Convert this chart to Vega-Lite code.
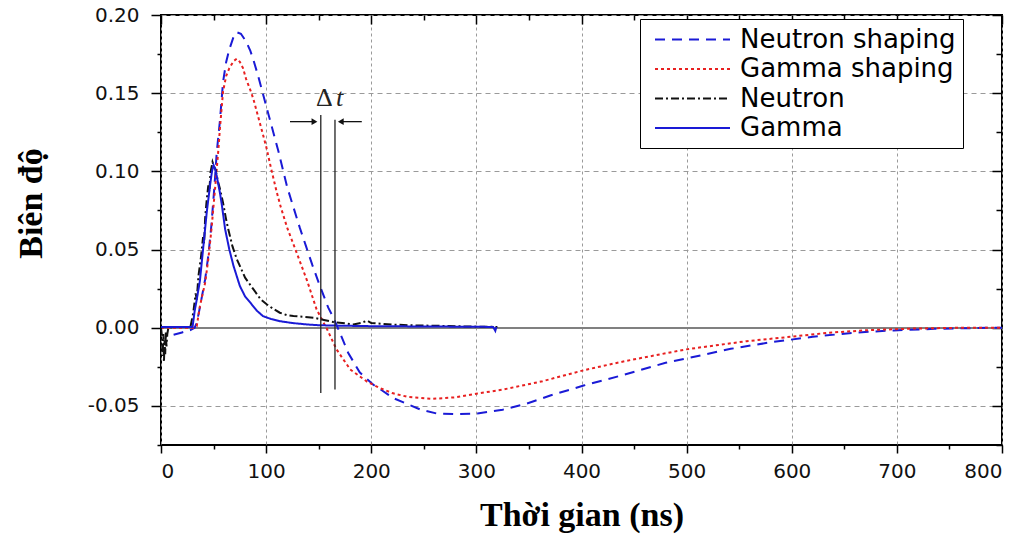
{
  "$schema": "https://vega.github.io/schema/vega-lite/v6.json",
  "width": 841,
  "height": 430,
  "padding": {"left": 161, "top": 15, "right": 30, "bottom": 90},
  "autosize": {"type": "none"},
  "background": "white",
  "config": {
    "view": {"stroke": "black", "strokeWidth": 2},
    "axis": {"labelFont": "DejaVu Sans", "labelFontSize": 20, "labelColor": "#111", "tickColor": "black", "tickWidth": 1.5, "domain": false},
    "legend": {
      "symbolType": "M-3,0H3",
      "symbolSize": 625,
      "symbolOffset": 32,
      "symbolStrokeWidth": 2,
      "labelFont": "DejaVu Sans",
      "labelFontSize": 26,
      "labelColor": "black",
      "labelOffset": 34,
      "labelLimit": 400,
      "rowPadding": 2.5,
      "padding": 7,
      "strokeColor": "black",
      "fillColor": "white"
    }
  },
  "datasets": {
    "curves": [
      {"t": 12, "v": -0.0045, "s": "Neutron shaping"},
      {"t": 20, "v": -0.003, "s": "Neutron shaping"},
      {"t": 28, "v": -0.0015, "s": "Neutron shaping"},
      {"t": 32, "v": 0, "s": "Neutron shaping"},
      {"t": 34, "v": 0.003, "s": "Neutron shaping"},
      {"t": 37, "v": 0.013, "s": "Neutron shaping"},
      {"t": 42, "v": 0.031, "s": "Neutron shaping"},
      {"t": 45, "v": 0.046, "s": "Neutron shaping"},
      {"t": 48, "v": 0.066, "s": "Neutron shaping"},
      {"t": 51, "v": 0.092, "s": "Neutron shaping"},
      {"t": 53, "v": 0.112, "s": "Neutron shaping"},
      {"t": 56, "v": 0.132, "s": "Neutron shaping"},
      {"t": 59, "v": 0.157, "s": "Neutron shaping"},
      {"t": 62, "v": 0.170, "s": "Neutron shaping"},
      {"t": 65, "v": 0.178, "s": "Neutron shaping"},
      {"t": 69, "v": 0.186, "s": "Neutron shaping"},
      {"t": 72, "v": 0.189, "s": "Neutron shaping"},
      {"t": 76, "v": 0.188, "s": "Neutron shaping"},
      {"t": 81, "v": 0.183, "s": "Neutron shaping"},
      {"t": 85, "v": 0.177, "s": "Neutron shaping"},
      {"t": 88, "v": 0.171, "s": "Neutron shaping"},
      {"t": 92, "v": 0.162, "s": "Neutron shaping"},
      {"t": 96, "v": 0.152, "s": "Neutron shaping"},
      {"t": 100, "v": 0.142, "s": "Neutron shaping"},
      {"t": 104, "v": 0.132, "s": "Neutron shaping"},
      {"t": 108, "v": 0.122, "s": "Neutron shaping"},
      {"t": 112, "v": 0.112, "s": "Neutron shaping"},
      {"t": 116, "v": 0.101, "s": "Neutron shaping"},
      {"t": 120, "v": 0.090, "s": "Neutron shaping"},
      {"t": 126, "v": 0.077, "s": "Neutron shaping"},
      {"t": 132, "v": 0.064, "s": "Neutron shaping"},
      {"t": 138, "v": 0.052, "s": "Neutron shaping"},
      {"t": 144, "v": 0.040, "s": "Neutron shaping"},
      {"t": 151, "v": 0.027, "s": "Neutron shaping"},
      {"t": 155, "v": 0.020, "s": "Neutron shaping"},
      {"t": 159, "v": 0.013, "s": "Neutron shaping"},
      {"t": 165, "v": 0.005, "s": "Neutron shaping"},
      {"t": 170, "v": -0.003, "s": "Neutron shaping"},
      {"t": 178, "v": -0.016, "s": "Neutron shaping"},
      {"t": 189, "v": -0.0285, "s": "Neutron shaping"},
      {"t": 202, "v": -0.0365, "s": "Neutron shaping"},
      {"t": 210, "v": -0.040, "s": "Neutron shaping"},
      {"t": 221, "v": -0.045, "s": "Neutron shaping"},
      {"t": 235, "v": -0.049, "s": "Neutron shaping"},
      {"t": 247, "v": -0.0524, "s": "Neutron shaping"},
      {"t": 262, "v": -0.0548, "s": "Neutron shaping"},
      {"t": 280, "v": -0.0553, "s": "Neutron shaping"},
      {"t": 301, "v": -0.0549, "s": "Neutron shaping"},
      {"t": 325, "v": -0.0524, "s": "Neutron shaping"},
      {"t": 348, "v": -0.0485, "s": "Neutron shaping"},
      {"t": 371, "v": -0.0432, "s": "Neutron shaping"},
      {"t": 402, "v": -0.037, "s": "Neutron shaping"},
      {"t": 441, "v": -0.030, "s": "Neutron shaping"},
      {"t": 480, "v": -0.0224, "s": "Neutron shaping"},
      {"t": 503, "v": -0.0192, "s": "Neutron shaping"},
      {"t": 542, "v": -0.0135, "s": "Neutron shaping"},
      {"t": 581, "v": -0.0092, "s": "Neutron shaping"},
      {"t": 620, "v": -0.0058, "s": "Neutron shaping"},
      {"t": 659, "v": -0.0032, "s": "Neutron shaping"},
      {"t": 697, "v": -0.0017, "s": "Neutron shaping"},
      {"t": 736, "v": -0.0007, "s": "Neutron shaping"},
      {"t": 790, "v": 0, "s": "Neutron shaping"},
      {"t": 800, "v": 0, "s": "Neutron shaping"},

      {"t": 0, "v": 0, "s": "Gamma shaping"},
      {"t": 32, "v": 0, "s": "Gamma shaping"},
      {"t": 34, "v": 0.001, "s": "Gamma shaping"},
      {"t": 37, "v": 0.0138, "s": "Gamma shaping"},
      {"t": 42, "v": 0.0288, "s": "Gamma shaping"},
      {"t": 45, "v": 0.0438, "s": "Gamma shaping"},
      {"t": 48, "v": 0.063, "s": "Gamma shaping"},
      {"t": 51.4, "v": 0.0887, "s": "Gamma shaping"},
      {"t": 54.6, "v": 0.114, "s": "Gamma shaping"},
      {"t": 56, "v": 0.127, "s": "Gamma shaping"},
      {"t": 59, "v": 0.151, "s": "Gamma shaping"},
      {"t": 62, "v": 0.161, "s": "Gamma shaping"},
      {"t": 65, "v": 0.166, "s": "Gamma shaping"},
      {"t": 69, "v": 0.1705, "s": "Gamma shaping"},
      {"t": 72, "v": 0.172, "s": "Gamma shaping"},
      {"t": 75, "v": 0.170, "s": "Gamma shaping"},
      {"t": 78, "v": 0.166, "s": "Gamma shaping"},
      {"t": 81, "v": 0.159, "s": "Gamma shaping"},
      {"t": 85, "v": 0.152, "s": "Gamma shaping"},
      {"t": 88, "v": 0.146, "s": "Gamma shaping"},
      {"t": 94, "v": 0.131, "s": "Gamma shaping"},
      {"t": 100, "v": 0.116, "s": "Gamma shaping"},
      {"t": 105, "v": 0.101, "s": "Gamma shaping"},
      {"t": 110, "v": 0.087, "s": "Gamma shaping"},
      {"t": 114, "v": 0.077, "s": "Gamma shaping"},
      {"t": 120, "v": 0.064, "s": "Gamma shaping"},
      {"t": 129, "v": 0.048, "s": "Gamma shaping"},
      {"t": 139, "v": 0.030, "s": "Gamma shaping"},
      {"t": 148, "v": 0.0117, "s": "Gamma shaping"},
      {"t": 158, "v": -0.001, "s": "Gamma shaping"},
      {"t": 167, "v": -0.0139, "s": "Gamma shaping"},
      {"t": 180, "v": -0.0267, "s": "Gamma shaping"},
      {"t": 196, "v": -0.0345, "s": "Gamma shaping"},
      {"t": 208, "v": -0.0385, "s": "Gamma shaping"},
      {"t": 220, "v": -0.0418, "s": "Gamma shaping"},
      {"t": 235, "v": -0.0443, "s": "Gamma shaping"},
      {"t": 258, "v": -0.0455, "s": "Gamma shaping"},
      {"t": 280, "v": -0.0445, "s": "Gamma shaping"},
      {"t": 301, "v": -0.0421, "s": "Gamma shaping"},
      {"t": 325, "v": -0.0396, "s": "Gamma shaping"},
      {"t": 363, "v": -0.0342, "s": "Gamma shaping"},
      {"t": 402, "v": -0.0272, "s": "Gamma shaping"},
      {"t": 441, "v": -0.0214, "s": "Gamma shaping"},
      {"t": 499, "v": -0.0139, "s": "Gamma shaping"},
      {"t": 557, "v": -0.0086, "s": "Gamma shaping"},
      {"t": 596, "v": -0.006, "s": "Gamma shaping"},
      {"t": 635, "v": -0.0032, "s": "Gamma shaping"},
      {"t": 674, "v": -0.0015, "s": "Gamma shaping"},
      {"t": 713, "v": -0.0006, "s": "Gamma shaping"},
      {"t": 760, "v": 0, "s": "Gamma shaping"},
      {"t": 800, "v": 0, "s": "Gamma shaping"},

      {"t": 0, "v": 0, "s": "Neutron"},
      {"t": 1, "v": -0.006, "s": "Neutron"},
      {"t": 1.6, "v": -0.018, "s": "Neutron"},
      {"t": 2.2, "v": -0.004, "s": "Neutron"},
      {"t": 2.8, "v": -0.022, "s": "Neutron"},
      {"t": 3.4, "v": -0.008, "s": "Neutron"},
      {"t": 4, "v": -0.017, "s": "Neutron"},
      {"t": 4.6, "v": -0.003, "s": "Neutron"},
      {"t": 5.2, "v": -0.012, "s": "Neutron"},
      {"t": 6, "v": -0.004, "s": "Neutron"},
      {"t": 7, "v": 0, "s": "Neutron"},
      {"t": 15, "v": 0.0005, "s": "Neutron"},
      {"t": 28, "v": 0.0005, "s": "Neutron"},
      {"t": 30.7, "v": 0.0096, "s": "Neutron"},
      {"t": 33, "v": 0.022, "s": "Neutron"},
      {"t": 34, "v": 0.018, "s": "Neutron"},
      {"t": 35.6, "v": 0.033, "s": "Neutron"},
      {"t": 38, "v": 0.045, "s": "Neutron"},
      {"t": 40, "v": 0.058, "s": "Neutron"},
      {"t": 41, "v": 0.054, "s": "Neutron"},
      {"t": 42, "v": 0.07, "s": "Neutron"},
      {"t": 43.5, "v": 0.082, "s": "Neutron"},
      {"t": 45, "v": 0.091, "s": "Neutron"},
      {"t": 46, "v": 0.087, "s": "Neutron"},
      {"t": 47, "v": 0.099, "s": "Neutron"},
      {"t": 49, "v": 0.106, "s": "Neutron"},
      {"t": 50.5, "v": 0.103, "s": "Neutron"},
      {"t": 52, "v": 0.101, "s": "Neutron"},
      {"t": 54, "v": 0.094, "s": "Neutron"},
      {"t": 56, "v": 0.089, "s": "Neutron"},
      {"t": 59, "v": 0.080, "s": "Neutron"},
      {"t": 62, "v": 0.069, "s": "Neutron"},
      {"t": 64, "v": 0.063, "s": "Neutron"},
      {"t": 68, "v": 0.052, "s": "Neutron"},
      {"t": 72, "v": 0.044, "s": "Neutron"},
      {"t": 75, "v": 0.0395, "s": "Neutron"},
      {"t": 80, "v": 0.032, "s": "Neutron"},
      {"t": 88, "v": 0.0245, "s": "Neutron"},
      {"t": 95, "v": 0.018, "s": "Neutron"},
      {"t": 100.5, "v": 0.015, "s": "Neutron"},
      {"t": 107, "v": 0.012, "s": "Neutron"},
      {"t": 113, "v": 0.0096, "s": "Neutron"},
      {"t": 120, "v": 0.008, "s": "Neutron"},
      {"t": 126, "v": 0.0075, "s": "Neutron"},
      {"t": 135, "v": 0.007, "s": "Neutron"},
      {"t": 145, "v": 0.0064, "s": "Neutron"},
      {"t": 155, "v": 0.005, "s": "Neutron"},
      {"t": 164, "v": 0.0036, "s": "Neutron"},
      {"t": 175, "v": 0.0028, "s": "Neutron"},
      {"t": 183, "v": 0.0021, "s": "Neutron"},
      {"t": 190, "v": 0.003, "s": "Neutron"},
      {"t": 196, "v": 0.0045, "s": "Neutron"},
      {"t": 200, "v": 0.003, "s": "Neutron"},
      {"t": 210, "v": 0.0025, "s": "Neutron"},
      {"t": 221, "v": 0.002, "s": "Neutron"},
      {"t": 240, "v": 0.0015, "s": "Neutron"},
      {"t": 265, "v": 0.0012, "s": "Neutron"},
      {"t": 290, "v": 0.0008, "s": "Neutron"},
      {"t": 320, "v": 0.0005, "s": "Neutron"},

      {"t": 0, "v": 0.0005, "s": "Gamma"},
      {"t": 30, "v": 0.0005, "s": "Gamma"},
      {"t": 32, "v": 0.0106, "s": "Gamma"},
      {"t": 34, "v": 0.018, "s": "Gamma"},
      {"t": 37, "v": 0.030, "s": "Gamma"},
      {"t": 40, "v": 0.050, "s": "Gamma"},
      {"t": 43.5, "v": 0.0737, "s": "Gamma"},
      {"t": 46.6, "v": 0.0908, "s": "Gamma"},
      {"t": 48.5, "v": 0.100, "s": "Gamma"},
      {"t": 50, "v": 0.104, "s": "Gamma"},
      {"t": 51.5, "v": 0.1015, "s": "Gamma"},
      {"t": 53, "v": 0.097, "s": "Gamma"},
      {"t": 56, "v": 0.0865, "s": "Gamma"},
      {"t": 58, "v": 0.078, "s": "Gamma"},
      {"t": 61, "v": 0.063, "s": "Gamma"},
      {"t": 65, "v": 0.050, "s": "Gamma"},
      {"t": 69, "v": 0.0395, "s": "Gamma"},
      {"t": 75, "v": 0.0267, "s": "Gamma"},
      {"t": 80, "v": 0.020, "s": "Gamma"},
      {"t": 85, "v": 0.016, "s": "Gamma"},
      {"t": 91, "v": 0.011, "s": "Gamma"},
      {"t": 97, "v": 0.0074, "s": "Gamma"},
      {"t": 105, "v": 0.0055, "s": "Gamma"},
      {"t": 113, "v": 0.0042, "s": "Gamma"},
      {"t": 125, "v": 0.003, "s": "Gamma"},
      {"t": 138.6, "v": 0.0021, "s": "Gamma"},
      {"t": 150, "v": 0.0016, "s": "Gamma"},
      {"t": 170, "v": 0.0013, "s": "Gamma"},
      {"t": 200, "v": 0.001, "s": "Gamma"},
      {"t": 250, "v": 0.0008, "s": "Gamma"},
      {"t": 300, "v": 0.0006, "s": "Gamma"},
      {"t": 316, "v": 0.0005, "s": "Gamma"},
      {"t": 318, "v": -0.002, "s": "Gamma"},
      {"t": 319, "v": 0.0004, "s": "Gamma"}
    ],
    "marks": [
      {"t": 152, "top": 0.136, "bottom": -0.0417},
      {"t": 165.5, "top": 0.133, "bottom": -0.0395}
    ],
    "arrows": [
      {"t": 122.7, "t2": 146, "v": 0.1318},
      {"t": 191, "t2": 171, "v": 0.1318}
    ],
    "heads": [
      {"t": 146, "v": 0.1318, "shape": "triangle-right"},
      {"t": 171, "v": 0.1318, "shape": "triangle-left"}
    ],
    "delta": [
      {"t": 155.5, "v": 0.1415, "txt": "Δ"}
    ],
    "tee": [
      {"t": 170, "v": 0.1415, "txt": "t"}
    ]
  },
  "resolve": {"axis": {"x": "independent", "y": "independent"}},
  "layer": [
    {
      "data": {"name": "curves"},
      "mark": {"type": "rule", "color": "#808080", "strokeWidth": 1.5},
      "encoding": {"y": {"datum": 0, "type": "quantitative", "scale": {"domain": [-0.075, 0.2], "nice": false, "zero": false}, "axis": null}}
    },
    {
      "data": {"name": "curves"},
      "mark": {"type": "line", "strokeWidth": 2, "clip": true},
      "encoding": {
        "x": {
          "field": "t", "type": "quantitative",
          "scale": {"domain": [0, 800], "nice": false},
          "axis": {
            "orient": "bottom",
            "values": [0, 50, 100, 150, 200, 250, 300, 350, 400, 450, 500, 550, 600, 650, 700, 750, 800],
            "labelExpr": "datum.value % 100 === 0 ? datum.label : ''",
            "tickSize": {"condition": {"test": "datum.value % 100 === 0", "value": 8}, "value": 4},
            "labelPadding": 8,
            "grid": true,
            "gridColor": "#9a9a9a",
            "gridDash": [3, 3],
            "gridWidth": 1,
            "gridOpacity": {"condition": {"test": "datum.value % 100 === 0", "value": 1}, "value": 0},
            "title": "Thời gian (ns)",
            "titleFont": "Liberation Serif",
            "titleFontWeight": "bold",
            "titleFontSize": 34,
            "titleColor": "black",
            "titleBaseline": "alphabetic",
            "titleY": 80
          }
        },
        "y": {
          "field": "v", "type": "quantitative",
          "scale": {"domain": [-0.075, 0.2], "nice": false, "zero": false},
          "axis": {
            "orient": "left",
            "values": [-0.075, -0.05, -0.025, 0, 0.025, 0.05, 0.075, 0.1, 0.125, 0.15, 0.175, 0.2],
            "format": ".2f",
            "labelExpr": "abs(round(datum.value * 1000)) % 50 === 0 ? replace(datum.label, '−', '-') : ''",
            "tickSize": {"condition": {"test": "abs(round(datum.value * 1000)) % 50 === 0", "value": 10}, "value": 4},
            "labelPadding": 12,
            "grid": true,
            "gridColor": "#9a9a9a",
            "gridDash": [5, 4],
            "gridWidth": 1,
            "gridOpacity": {"condition": {"test": "abs(round(datum.value * 1000)) % 50 === 0", "value": 1}, "value": 0},
            "title": "Biên độ",
            "titleFont": "Liberation Serif",
            "titleFontWeight": "bold",
            "titleFontSize": 34,
            "titleColor": "black",
            "titleAngle": -90,
            "titleBaseline": "middle",
            "titleX": -130,
            "titleY": 188
          }
        },
        "color": {
          "field": "s", "type": "nominal",
          "scale": {"domain": ["Neutron shaping", "Gamma shaping", "Neutron", "Gamma"], "range": ["#1a1ad6", "#e82020", "#111111", "#1a1ad6"]},
          "legend": {"title": null, "orient": "none", "legendX": 479, "legendY": 4}
        },
        "strokeDash": {
          "field": "s", "type": "nominal",
          "scale": {"domain": ["Neutron shaping", "Gamma shaping", "Neutron", "Gamma"], "range": [[10, 7], [3, 3], [8, 3, 2, 3], [1, 0]]},
          "legend": {"title": null, "orient": "none", "legendX": 479, "legendY": 4}
        },
        "order": {"field": "t", "type": "quantitative"}
      }
    },
    {
      "data": {"name": "marks"},
      "mark": {"type": "rule", "color": "#222", "strokeWidth": 1.3},
      "encoding": {
        "x": {
          "field": "t", "type": "quantitative", "scale": {"domain": [0, 800], "nice": false},
          "axis": {
            "orient": "top",
            "values": [0, 50, 100, 150, 200, 250, 300, 350, 400, 450, 500, 550, 600, 650, 700, 750, 800],
            "labels": false,
            "grid": false,
            "title": null,
            "tickSize": {"condition": {"test": "datum.value % 100 === 0", "value": -9}, "value": -5}
          }
        },
        "y": {
          "field": "top", "type": "quantitative", "scale": {"domain": [-0.075, 0.2], "nice": false, "zero": false},
          "axis": {
            "orient": "right",
            "values": [-0.075, -0.05, -0.025, 0, 0.025, 0.05, 0.075, 0.1, 0.125, 0.15, 0.175, 0.2],
            "labels": false,
            "grid": false,
            "title": null,
            "tickSize": {"condition": {"test": "abs(round(datum.value * 1000)) % 50 === 0", "value": -10}, "value": -6}
          }
        },
        "y2": {"field": "bottom"}
      }
    },
    {
      "data": {"name": "arrows"},
      "mark": {"type": "rule", "color": "#111", "strokeWidth": 1.3},
      "encoding": {
        "x": {"field": "t", "type": "quantitative", "axis": null},
        "x2": {"field": "t2"},
        "y": {"field": "v", "type": "quantitative", "axis": null}
      }
    },
    {
      "data": {"name": "heads"},
      "mark": {"type": "point", "filled": true, "color": "#111", "size": 45, "opacity": 1},
      "encoding": {
        "x": {"field": "t", "type": "quantitative", "axis": null},
        "y": {"field": "v", "type": "quantitative", "axis": null},
        "shape": {"field": "shape", "type": "nominal", "scale": null, "legend": null}
      }
    },
    {
      "data": {"name": "delta"},
      "mark": {"type": "text", "font": "Liberation Serif", "fontSize": 26, "baseline": "alphabetic", "align": "center", "color": "#222"},
      "encoding": {
        "x": {"field": "t", "type": "quantitative", "axis": null},
        "y": {"field": "v", "type": "quantitative", "axis": null},
        "text": {"field": "txt"}
      }
    },
    {
      "data": {"name": "tee"},
      "mark": {"type": "text", "font": "Liberation Serif", "fontSize": 26, "fontStyle": "italic", "baseline": "alphabetic", "align": "center", "color": "#222"},
      "encoding": {
        "x": {"field": "t", "type": "quantitative", "axis": null},
        "y": {"field": "v", "type": "quantitative", "axis": null},
        "text": {"field": "txt"}
      }
    }
  ]
}
